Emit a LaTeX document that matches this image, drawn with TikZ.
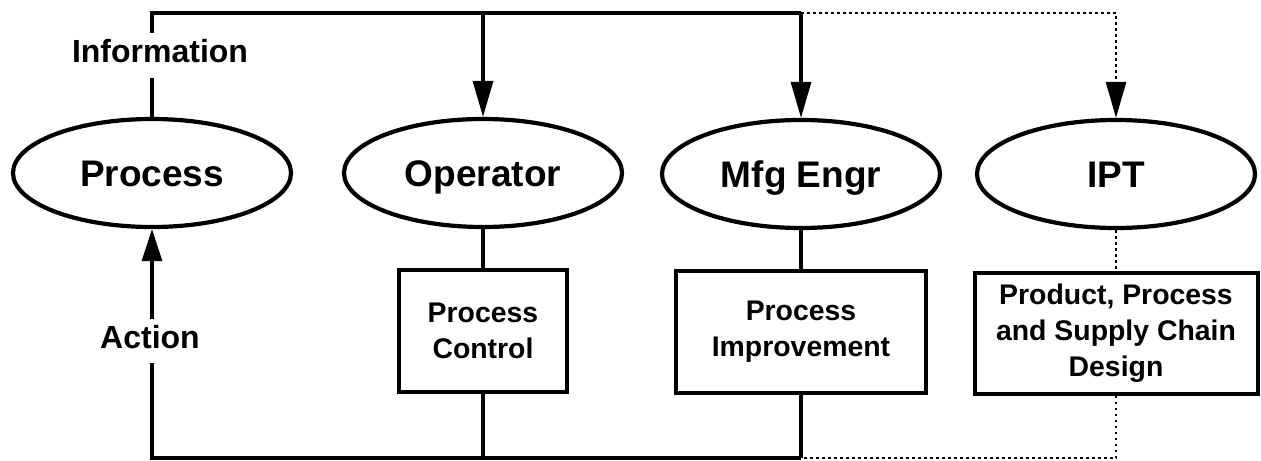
\documentclass[tikz,border=0pt]{standalone}
\usepackage{fontspec}
\setmainfont{Liberation Sans}
\usetikzlibrary{arrows.meta,shapes.geometric}

\begin{document}
\begin{tikzpicture}[x=0.5pt,y=-0.5pt,
  actor/.style={ellipse,draw,line width=2.1pt,minimum width=139pt,minimum height=54pt,
    inner sep=0pt,text height=13.3pt,text depth=0pt,
    font=\fontsize{18.5}{20}\selectfont\bfseries},
  task/.style={rectangle,draw,line width=2pt,inner sep=0pt,align=center,
    font=\fontsize{14.2}{18}\selectfont\bfseries},
  flow/.style={line width=1.6pt},
  plan/.style={line width=1.3pt,dash pattern=on 1.3pt off 1.7pt},
  tag/.style={font=\fontsize{16}{18}\selectfont\bfseries,inner sep=3pt},
  down/.style={-{Triangle[length=18pt,width=10pt]}},
  up/.style={-{Triangle[length=16pt,width=10pt]}},
]
\useasboundingbox (0,0) rectangle (1261,460);

% organisational levels
\node[actor] (proc) at (152,173) {Process};
\node[actor] (oper) at (483,173) {Operator};
\node[actor] (mfg)  at (801,174) {Mfg Engr};
\node[actor] (ipt)  at (1116,174) {IPT};

% activities of each level
\node[task,minimum width=84pt,minimum height=61pt] (pc) at (483,331) {Process\\Control};
\node[task,minimum width=125pt,minimum height=61pt] (pi) at (801,331.5) {Process\\Improvement};
\node[task,minimum width=141.5pt,minimum height=60.5pt] (pd) at (1116,333) {Product, Process\\and Supply Chain\\Design};

% loop labels
\node[tag] (info) at (160,51) {Information};
\node[tag] (act)  at (150,337) {Action};

% corners of the feedback loop
\coordinate (tl) at (152,13);
\coordinate (tm) at (801,13);
\coordinate (bl) at (152,458);

% information path (top)
\draw[flow] (info.north -| proc) -- (tl) -- (tm);
\draw[flow] ([yshift=-4.5pt]info.south -| proc) -- (proc.north);
\draw[flow,down] (tl -| oper) -- (oper.north);
\draw[flow,down] (tm) -- (mfg.north);
\draw[plan,down] (tm) -- (tm -| ipt) -- (ipt.north);

% levels to activities
\draw[flow] (oper.south) -- (pc.north);
\draw[flow] (mfg.south) -- (pi.north);
\draw[plan] (ipt.south) -- (pd.north);

% action path (bottom)
\draw[flow] (pc.south) -- (pc.south |- bl);
\draw[flow] (pi.south) -- (pi.south |- bl);
\draw[plan] (pd.south) -- (pd.south |- bl) -- (bl -| pi);
\draw[flow] (bl -| pi) -- (bl) -- ([yshift=-4pt]act.south -| proc);
\draw[flow,up] (act.north -| proc) -- (proc.south);
\end{tikzpicture}
\end{document}
